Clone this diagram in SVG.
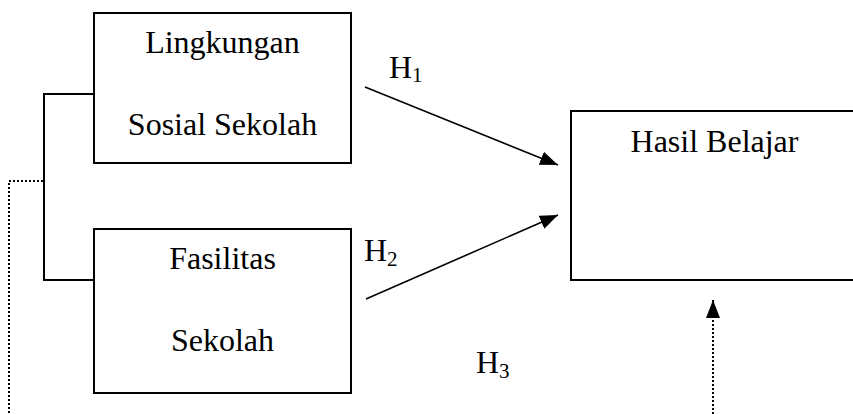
<svg xmlns="http://www.w3.org/2000/svg" width="853" height="414" viewBox="0 0 853 414">
<style>
.box{fill:#fff;stroke:#000;stroke-width:2}
.t{font-family:"Liberation Serif","Times New Roman",serif;font-size:32px;fill:#000}
.c{text-anchor:middle}
.ln{fill:none;stroke:#000;stroke-width:1.6}
.br{fill:none;stroke:#000;stroke-width:2}
.dot{fill:none;stroke:#000;stroke-width:2;stroke-dasharray:2 2}
</style>
<defs>
<marker id="ah" markerUnits="userSpaceOnUse" markerWidth="18" markerHeight="14" viewBox="0 0 18 14" refX="18" refY="7" orient="auto">
<path d="M0,0 L18,7 L0,14 Z" fill="#000"/>
</marker>
</defs>
<rect width="853" height="414" fill="#fff"/>
<g id="connectors">
<path class="br" d="M94,94 H44 V280 H94"/>
<path class="dot" d="M43,181 H9 V414"/>
<line class="ln" x1="365" y1="87" x2="558" y2="165" marker-end="url(#ah)"/>
<line class="ln" x1="366" y1="299" x2="558" y2="215" marker-end="url(#ah)"/>
<line class="dot" x1="713" y1="414" x2="713" y2="300" marker-end="url(#ah)"/>
</g>
<g id="node-lingkungan">
<rect class="box" x="94" y="13" width="257" height="150"/>
<text class="t c" x="222.5" y="53">Lingkungan</text>
<text class="t c" x="222.5" y="135">Sosial Sekolah</text>
</g>
<g id="node-fasilitas">
<rect class="box" x="94" y="229" width="257" height="164"/>
<text class="t c" x="222.5" y="269">Fasilitas</text>
<text class="t c" x="222.5" y="351">Sekolah</text>
</g>
<g id="node-hasil">
<rect class="box" x="571" y="111" width="288" height="169"/>
<text class="t c" x="714.5" y="152">Hasil Belajar</text>
</g>
<g id="labels">
<text class="t" x="389" y="78">H<tspan font-size="21" dy="4">1</tspan></text>
<text class="t" x="364" y="261">H<tspan font-size="21" dy="5">2</tspan></text>
<text class="t" x="476" y="373">H<tspan font-size="21" dy="5">3</tspan></text>
</g>
</svg>
